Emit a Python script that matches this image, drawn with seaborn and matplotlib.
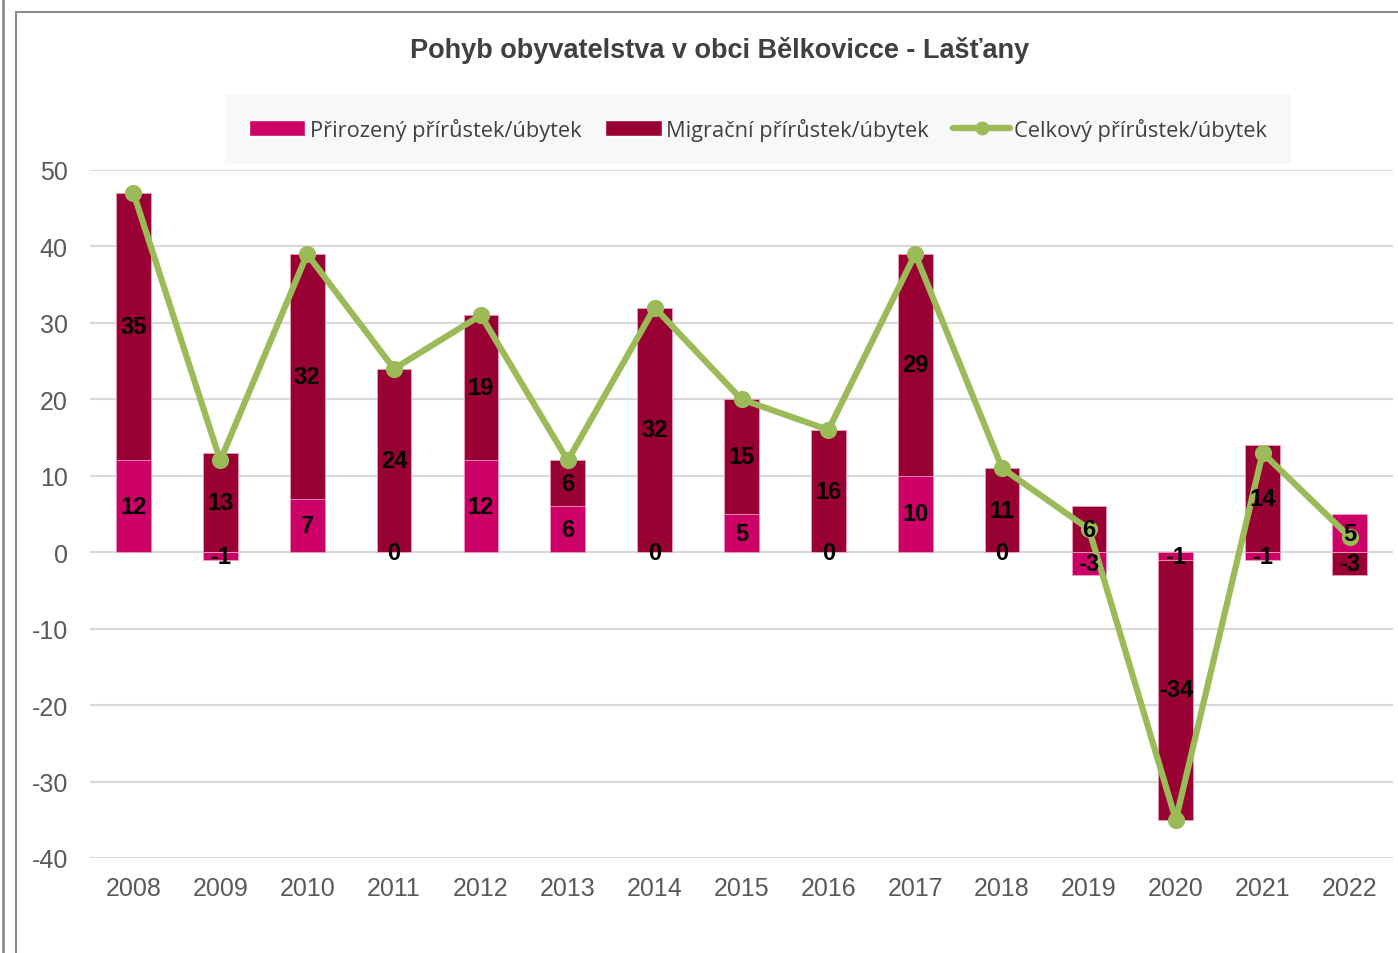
import numpy as np
import pandas as pd
import seaborn as sns
import matplotlib.pyplot as plt
from matplotlib.lines import Line2D
from matplotlib.patches import Patch

years = [str(y) for y in range(2008, 2023)]
prirozeny = [12, -1, 7, 0, 12, 6, 0, 5, 0, 10, 0, -3, -1, -1, 5]
migracni = [35, 13, 32, 24, 19, 6, 32, 15, 16, 29, 11, 6, -34, 14, -3]
celkovy = [47, 12, 39, 24, 31, 12, 32, 20, 16, 39, 11, 3, -35, 13, 2]

c_nat = "#CC0066"
c_mig = "#990033"
c_tot = "#9BBB59"

# Excel-style stacking: positives on positives, negatives on negatives
nat = np.array(prirozeny)
mig = np.array(migracni)
same = np.sign(nat) * np.sign(mig) > 0
mig_top = np.where(same, nat + mig, mig)
mig_mid = np.where(same, nat + mig / 2, mig / 2)

df = pd.DataFrame({"rok": years, "nat": nat, "mig_top": mig_top, "total": celkovy})

sns.set_style("white")
plt.rcParams["font.family"] = ["Liberation Sans", "DejaVu Sans"]
plt.rcParams["axes.unicode_minus"] = False

fig = plt.figure(figsize=(13.98, 9.54), dpi=100)
ax = fig.add_axes([90 / 1398, 1 - 859 / 954, 1303 / 1398, 688 / 954])

sns.barplot(data=df, x="rok", y="mig_top", color=c_mig, saturation=1, width=0.4,
            edgecolor="#e8a0b8", linewidth=0.6, ax=ax, zorder=2)
sns.barplot(data=df, x="rok", y="nat", color=c_nat, saturation=1, width=0.4,
            edgecolor="#f0a0c8", linewidth=0.6, ax=ax, zorder=2)
sns.pointplot(data=df, x="rok", y="total", color=c_tot, markers="o", linestyles="-",
              markersize=9, linewidth=4.5, ax=ax, zorder=4)

for i in range(len(years)):
    ax.text(i, nat[i] / 2, str(nat[i]), ha="center", va="center", fontsize=17,
            fontweight="bold", color="black", zorder=6)
    ax.text(i, mig_mid[i], str(mig[i]), ha="center", va="center", fontsize=17,
            fontweight="bold", color="black", zorder=6)

ax.set_ylim(-40, 50)
ax.set_xlim(-0.5, 14.5)
ax.set_yticks(range(-40, 51, 10))
ax.yaxis.grid(True, color="#D9D9D9", linewidth=1.5, zorder=0)
ax.set_axisbelow(True)
for s in ax.spines.values():
    s.set_visible(False)
ax.set_xlabel("")
ax.set_ylabel("")
ax.tick_params(axis="both", length=0, labelsize=18, labelcolor="#595959")
ax.tick_params(axis="x", pad=13)
ax.tick_params(axis="y", pad=16)

fig.text(720 / 1398, 1 - 51 / 954, "Pohyb obyvatelstva v obci Bělkovicce - Lašťany",
         ha="center", va="center", fontsize=19.5, fontweight="bold", color="#404040")

handles = [
    Patch(facecolor=c_nat, label="Přirozený přírůstek/úbytek"),
    Patch(facecolor=c_mig, label="Migrační přírůstek/úbytek"),
    Line2D([], [], color=c_tot, lw=4.5, marker="o", markersize=9,
           label="Celkový přírůstek/úbytek"),
]
leg = fig.legend(handles=handles, loc="center", ncol=3,
                 bbox_to_anchor=(758 / 1398, 1 - 130 / 954),
                 frameon=True, facecolor="#F8F8F8", edgecolor="none", fancybox=False,
                 prop={"family": ["Open Sans", "DejaVu Sans"], "size": 15.7},
                 handlelength=2.6, handletextpad=0.2, columnspacing=1.1,
                 borderpad=1.1, labelcolor="#404040")
leg.get_frame().set_alpha(1)

# outer frame lines
fig.add_artist(Line2D([3 / 1398, 3 / 1398], [0, 1], color="#8c8c8c", lw=2))
fig.add_artist(Line2D([16 / 1398, 16 / 1398], [0, 1 - 13 / 954], color="#8c8c8c", lw=1.5))
fig.add_artist(Line2D([16 / 1398, 1], [1 - 13 / 954, 1 - 13 / 954], color="#8c8c8c", lw=1.5))

fig.savefig("out.png", dpi=100)
